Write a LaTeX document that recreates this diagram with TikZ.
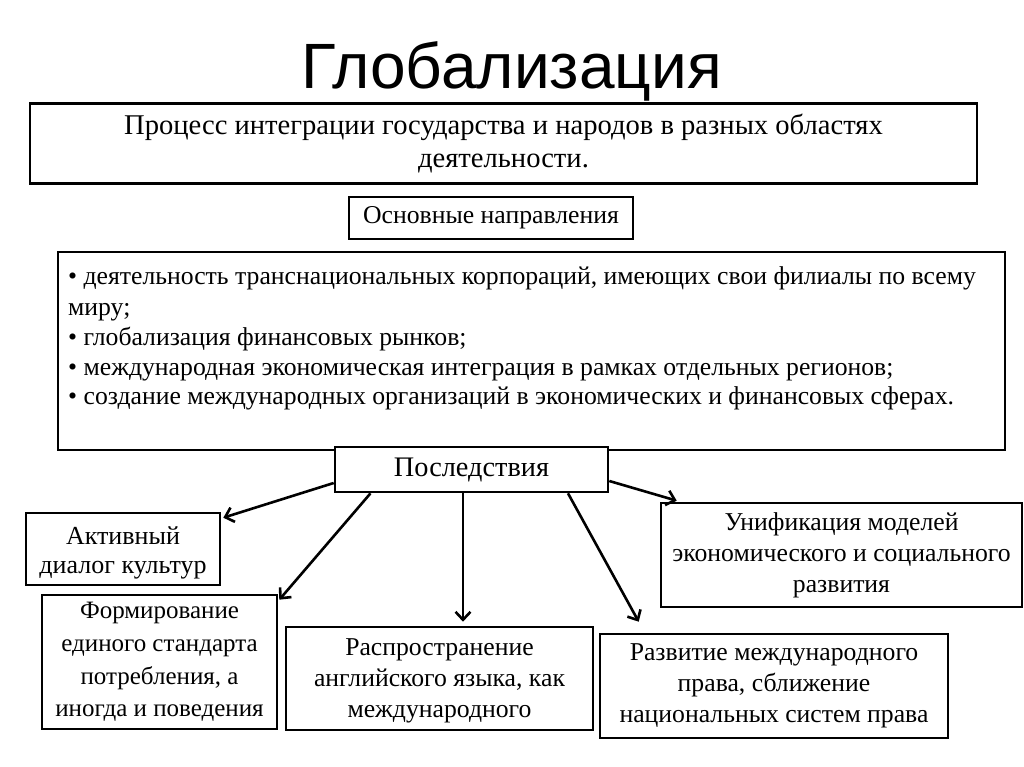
\documentclass[tikz,border=0pt]{standalone}
\usepackage{fontspec}
\setmainfont{Liberation Serif}
\newfontfamily\titlefont{Liberation Sans}
\usetikzlibrary{arrows.meta,calc}
\tikzset{
  box/.style={draw=black, line width=2.6pt, fill=white, inner sep=0pt, align=center},
  body/.style={font=\fontsize{25.7}{31}\selectfont},
  listline/.style={anchor=base west, inner sep=0pt, font=\fontsize{25.7}{31}\selectfont},
  conn/.style={line width=2.6pt, -{Straight Barb[length=8pt,width=15pt,line width=2.6pt]}},
}
\begin{document}
\begin{tikzpicture}[x=1pt,y=-1pt]
\useasboundingbox (0,0) rectangle (1024,767);
\fill[white] (0,0) rectangle (1024,767);
\node[anchor=base, inner sep=0pt] (title) at (511.5,89) {\titlefont\fontsize{64}{76}\selectfont Глобализация};
\node[box, minimum width=947pt, minimum height=80pt, font=\fontsize{28.6}{32.5}\selectfont] (def) at (503.5,143.5)
  {Процесс интеграции государства и народов в разных областях\\деятельности.};
\node[box, minimum width=284pt, minimum height=42pt, body] (dirs) at (491,218) {Основные направления};
\node[box, minimum width=947pt, minimum height=198pt] (list) at (531.5,351) {};
\node[listline] (l1) at (68,284) {• деятельность транснациональных корпораций, имеющих свои филиалы по всему};
\node[listline] (l2) at (68,315) {миру;};
\node[listline] (l3) at (68,345.5) {• глобализация финансовых рынков;};
\node[listline] (l4) at (68,375) {• международная экономическая интеграция в рамках отдельных регионов;};
\node[listline] (l5) at (68,404) {• создание международных организаций в экономических и финансовых сферах.};
\node[box, minimum width=273pt, minimum height=45pt, font=\fontsize{28.3}{32}\selectfont] (post) at (471.5,469.5) {Последствия};
\node[box, minimum width=194pt, minimum height=72pt] (act) at (123,549) {};
\node[align=center, inner sep=0pt, font=\fontsize{26}{28.5}\selectfont] (acttext) at (123,553)
  {Активный\\диалог культур};
\node[box, minimum width=235pt, minimum height=134pt, font=\fontsize{25}{32.7}\selectfont] (form) at (159.5,662)
  {Формирование\\единого стандарта\\потребления, а\\иногда и поведения};
\node[box, minimum width=307pt, minimum height=103pt, body] (rasp) at (439.5,678.5) {};
\node[align=center, inner sep=0pt, body] (rasptext) at (439.5,681)
  {Распространение\\английского языка, как\\международного};
\node[box, minimum width=361pt, minimum height=104pt, body] (unif) at (841.5,555)
  {Унификация моделей\\экономического и социального\\развития};
\node[box, minimum width=348pt, minimum height=104pt, body] (razv) at (774,686)
  {Развитие международного\\права, сближение\\национальных систем права};
\draw[conn] ([yshift=-13.5pt]post.west) -- ([xshift=2pt,yshift=-6pt]act.north east);
\draw[conn] ([xshift=-101pt]post.south) -- ([xshift=1pt,yshift=-6pt]form.north east);
\draw[conn] ([xshift=-8.5pt]post.south) -- ([xshift=-8.5pt,yshift=4pt]post.south |- rasp.north);
\draw[conn] ([xshift=96.5pt]post.south) -- ([xshift=40pt,yshift=11pt]razv.north west);
\draw[conn] ([yshift=-11.5pt]post.east) -- ([xshift=17pt,yshift=1pt]unif.north west);
\end{tikzpicture}
\end{document}
